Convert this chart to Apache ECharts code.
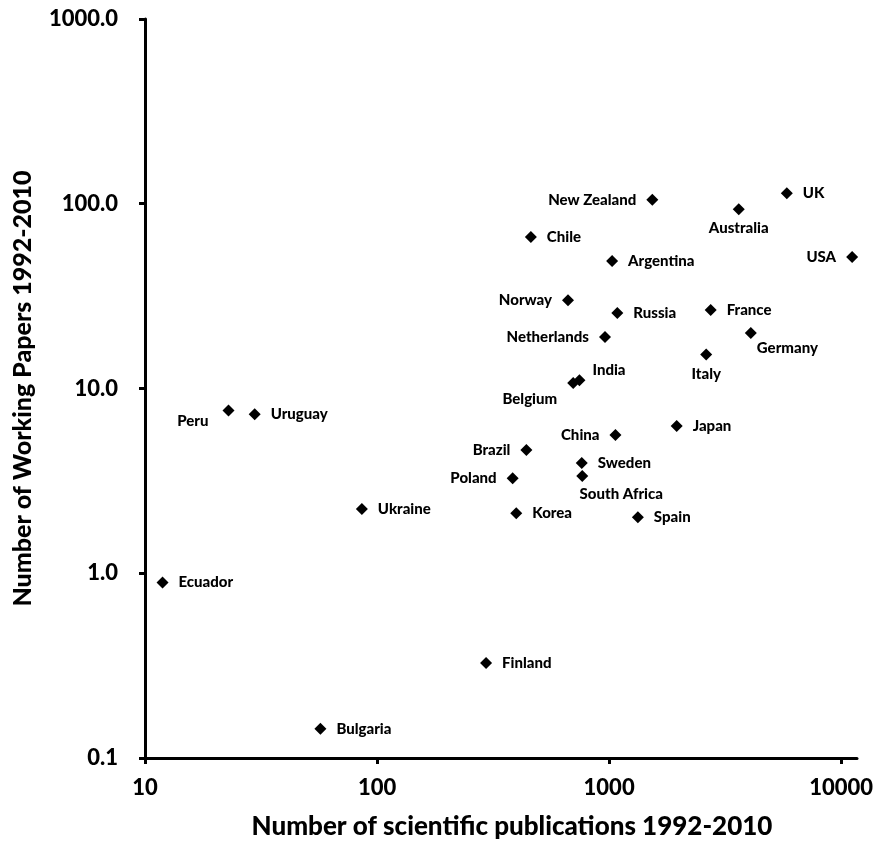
<!DOCTYPE html>
<html>
<head>
<meta charset="utf-8">
<title>Working papers vs scientific publications</title>
<script src="https://cdn.jsdelivr.net/npm/echarts@6/dist/echarts.min.js"></script>
<style>
  html, body { margin: 0; padding: 0; background: #fff; }
  #chart { width: 877px; height: 845px; }
</style>
</head>
<body>
<div id="chart"></div>
<script>
// countries, publications (x) and working papers (y)
var countries = ['UK', 'New Zealand', 'Australia', 'Chile', 'USA', 'Argentina', 'Norway', 'Russia',
  'France', 'Netherlands', 'Germany', 'Italy', 'India', 'Belgium', 'Peru', 'Uruguay', 'Japan',
  'China', 'Brazil', 'Sweden', 'South Africa', 'Poland', 'Korea', 'Spain', 'Ukraine', 'Ecuador',
  'Finland', 'Bulgaria'];
var publications = [5830, 1535, 3620, 460, 11150, 1030, 665, 1085,
  2740, 960, 4080, 2620, 745, 700, 22.9, 29.7, 1955,
  1065, 440, 762, 766, 384, 398, 1330, 86, 11.9,
  295, 57];
var workingPapers = [114, 105, 93.5, 66, 51.5, 49, 30, 25.6,
  26.6, 19.0, 20.0, 15.3, 11.1, 10.7, 7.6, 7.25, 6.27,
  5.6, 4.65, 3.95, 3.36, 3.27, 2.11, 2.01, 2.23, 0.89,
  0.327, 0.144];
var xTicks = [10, 100, 1000, 10000];
var yTicks = [0.1, 1, 10, 100, 1000];

// where each label sits relative to its marker (layout only)
var labelPlace = {
  'New Zealand': { position: 'left' },
  'USA': { position: 'left' },
  'Norway': { position: 'left' },
  'Netherlands': { position: 'left' },
  'China': { position: 'left' },
  'Brazil': { position: 'left' },
  'Poland': { position: 'left' },
  'Australia': { position: 'bottom', distance: 6 },
  'Italy': { position: 'bottom', distance: 6 },
  'Germany': { position: 'right', offset: [-10, 15] },
  'India': { position: 'right', offset: [-3, -10] },
  'Belgium': { position: 'left', offset: [0, 16] },
  'Peru': { position: 'left', offset: [-4, 11] },
  'South Africa': { position: 'bottom', distance: 5, offset: [39, 0] }
};

var font = 'Lato, "Open Sans", sans-serif';

var points = countries.map(function (c, i) {
  var p = labelPlace[c] || { position: 'right' };
  return {
    name: c,
    value: [publications[i], workingPapers[i]],
    label: {
      position: p.position,
      distance: p.distance != null ? p.distance : 10,
      offset: p.offset || [0, 0]
    }
  };
});

var chart = echarts.init(document.getElementById('chart'));
chart.setOption({
  animation: false,
  grid: { left: 145, top: 19, right: 20, bottom: 85, containLabel: false },
  xAxis: {
    type: 'log',
    logBase: 10,
    min: 10,
    max: 11700,
    name: 'Number of scientific publications 1992-2010',
    nameLocation: 'middle',
    nameGap: 56,
    nameTextStyle: { fontFamily: font, fontWeight: 900, fontSize: 26, color: '#000', padding: [0, 0, 0, 22] },
    axisLine: { lineStyle: { color: '#000', width: 3 } },
    axisTick: { show: true, length: 6, lineStyle: { color: '#000', width: 3 }, customValues: xTicks },
    axisLabel: {
      customValues: xTicks,
      margin: 19,
      fontFamily: font, fontWeight: 900, fontSize: 22, color: '#000',
      formatter: function (v) { return String(Math.round(v)); }
    },
    splitLine: { show: false },
    minorTick: { show: false }
  },
  yAxis: {
    type: 'log',
    logBase: 10,
    min: 0.1,
    max: 1000,
    name: 'Number of Working Papers 1992-2010',
    nameLocation: 'middle',
    nameGap: 110,
    nameTextStyle: { fontFamily: font, fontWeight: 900, fontSize: 25, color: '#000' },
    axisLine: { lineStyle: { color: '#000', width: 3 } },
    axisTick: { show: true, length: 6, lineStyle: { color: '#000', width: 3 }, customValues: yTicks },
    axisLabel: {
      customValues: yTicks,
      margin: 27,
      fontFamily: font, fontWeight: 900, fontSize: 22, color: '#000',
      formatter: function (v) { return Number(v).toFixed(1); }
    },
    splitLine: { show: false }
  },
  series: [{
    type: 'scatter',
    symbol: 'diamond',
    symbolSize: 12,
    itemStyle: { color: '#000', opacity: 1 },
    label: {
      show: true,
      formatter: '{b}',
      fontFamily: font,
      fontWeight: 900,
      fontSize: 15,
      color: '#000'
    },
    data: points
  }]
});
</script>
</body>
</html>
